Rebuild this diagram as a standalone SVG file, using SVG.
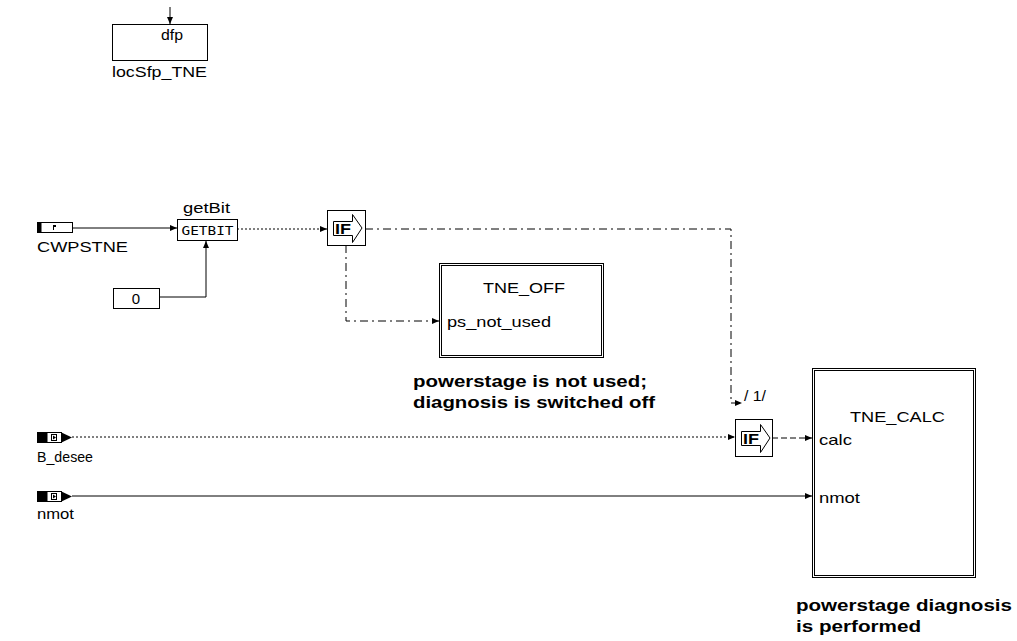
<svg xmlns="http://www.w3.org/2000/svg" width="1017" height="641" viewBox="0 0 1017 641">
<defs>
<style>
.t{font-family:"Liberation Sans",Arial,sans-serif;font-size:15px;fill:#000}
.b{font-family:"Liberation Sans",Arial,sans-serif;font-size:16px;font-weight:bold;fill:#000}
.if{font-family:"Liberation Sans",Arial,sans-serif;font-size:14px;font-weight:bold;fill:#000}
.box{fill:#fff;stroke:#000;stroke-width:1}
.ln{fill:none;stroke:#000;stroke-width:1}
.dot{stroke-dasharray:2,2}
.dd{stroke-dasharray:8,4,2,4}
.dash{stroke-dasharray:6,3}
</style>
<marker id="ar" markerWidth="8" markerHeight="8" refX="7" refY="4" orient="auto" markerUnits="userSpaceOnUse">
<path d="M0,1 L7,4 L0,7 Z" fill="#000"/>
</marker>
</defs>
<rect width="1017" height="641" fill="#fff"/>

<g id="connectors">
<path class="ln" d="M170,7 V24" marker-end="url(#ar)"/>
<path class="ln" d="M72,228 H177" marker-end="url(#ar)"/>
<path class="ln" d="M159,297 H206 V241" marker-end="url(#ar)"/>
<path class="ln dot" d="M237,229 H327" marker-end="url(#ar)"/>
<path class="ln dd" d="M365,229 H731 V403 H742" marker-end="url(#ar)"/>
<path class="ln dd" d="M346,245 V321 H439" marker-end="url(#ar)"/>
<path class="ln dot" d="M72,437 H735" marker-end="url(#ar)"/>
<path class="ln dash" d="M772,438 H812" marker-end="url(#ar)"/>
<path class="ln" d="M72,496 H812" marker-end="url(#ar)"/>
</g>

<g id="locSfp_TNE">
<rect class="box" x="112.5" y="24.5" width="95" height="36"/>
<text class="t" x="161" y="40" textLength="22" lengthAdjust="spacingAndGlyphs">dfp</text>
<text class="t" x="112" y="77" textLength="95" lengthAdjust="spacingAndGlyphs">locSfp_TNE</text>
</g>

<g id="CWPSTNE">
<rect class="box" x="37.5" y="222.5" width="35" height="10"/>
<rect x="37.5" y="222.5" width="4" height="10" fill="#000"/>
<path d="M53,225 h3 v2 h-2 v3 h-1 z" fill="#000"/>
<text class="t" x="37" y="252" textLength="91" lengthAdjust="spacingAndGlyphs">CWPSTNE</text>
</g>

<g id="getBit">
<text class="t" x="183" y="213" textLength="47" lengthAdjust="spacingAndGlyphs">getBit</text>
<rect class="box" x="177.5" y="219.5" width="60" height="21"/>
<text x="207.5" y="235" text-anchor="middle" font-family="'DejaVu Sans Mono',monospace" font-size="12" textLength="52" lengthAdjust="spacingAndGlyphs">GETBIT</text>
</g>

<g id="const0">
<rect class="box" x="113.5" y="288.5" width="46" height="20"/>
<text class="t" x="136" y="304" font-size="16" text-anchor="middle">0</text>
</g>

<g id="if1">
<rect class="box" x="327.5" y="210.5" width="38" height="35"/>
<path class="ln" d="M333.5,221.5 H352.5 V214.5 L362,228 L352.5,242.5 V235.5 H333.5 Z"/>
<text class="if" x="335" y="234" textLength="16" lengthAdjust="spacingAndGlyphs">IF</text>
</g>

<g id="TNE_OFF">
<rect class="box" x="439.5" y="263.5" width="164" height="94"/>
<rect class="ln" x="441.5" y="265.5" width="160" height="90"/>
<text class="t" x="483" y="293" textLength="82" lengthAdjust="spacingAndGlyphs">TNE_OFF</text>
<text class="t" x="447" y="327" textLength="104" lengthAdjust="spacingAndGlyphs">ps_not_used</text>
</g>
<g id="note1">
<text class="b" x="413" y="387" textLength="234" lengthAdjust="spacingAndGlyphs">powerstage is not used;</text>
<text class="b" x="413" y="408" textLength="242" lengthAdjust="spacingAndGlyphs">diagnosis is switched off</text>
</g>

<g id="label1">
<text class="t" x="744" y="401" textLength="22" lengthAdjust="spacingAndGlyphs">/ 1/</text>
</g>

<g id="B_desee">
<rect class="box" x="37.5" y="432.5" width="24" height="10"/>
<rect x="37.5" y="432.5" width="10" height="10" fill="#000"/>
<rect x="51.5" y="434.5" width="5" height="6" fill="none" stroke="#000"/>
<path d="M53,435.5 L56,437.5 L53,439.5 Z" fill="#000"/>
<path d="M61.5,432.5 L72,437.5 L61.5,442.5 Z" fill="#000"/>
<text class="t" x="37" y="462" textLength="56" lengthAdjust="spacingAndGlyphs">B_desee</text>
</g>

<g id="nmot">
<rect class="box" x="37.5" y="491.5" width="24" height="10"/>
<rect x="37.5" y="491.5" width="10" height="10" fill="#000"/>
<rect x="51.5" y="493.5" width="5" height="6" fill="none" stroke="#000"/>
<path d="M53,494.5 L56,496.5 L53,498.5 Z" fill="#000"/>
<path d="M61.5,491.5 L72,496.5 L61.5,501.5 Z" fill="#000"/>
<text class="t" x="37" y="519" textLength="37" lengthAdjust="spacingAndGlyphs">nmot</text>
</g>

<g id="if2">
<rect class="box" x="735.5" y="419.5" width="37" height="37"/>
<path class="ln" d="M741.5,431.5 H760.5 V424.5 L770,438 L760.5,452.5 V445.5 H741.5 Z"/>
<text class="if" x="743" y="444" textLength="16" lengthAdjust="spacingAndGlyphs">IF</text>
</g>

<g id="TNE_CALC">
<rect class="box" x="812.5" y="368.5" width="163" height="209"/>
<rect class="ln" x="814.5" y="370.5" width="159" height="205"/>
<text class="t" x="850" y="422" textLength="95" lengthAdjust="spacingAndGlyphs">TNE_CALC</text>
<text class="t" x="819" y="445" textLength="33" lengthAdjust="spacingAndGlyphs">calc</text>
<text class="t" x="819" y="503" textLength="41" lengthAdjust="spacingAndGlyphs">nmot</text>
</g>
<g id="note2">
<text class="b" x="796" y="611" textLength="216" lengthAdjust="spacingAndGlyphs">powerstage diagnosis</text>
<text class="b" x="796" y="632" textLength="125" lengthAdjust="spacingAndGlyphs">is performed</text>
</g>
</svg>
